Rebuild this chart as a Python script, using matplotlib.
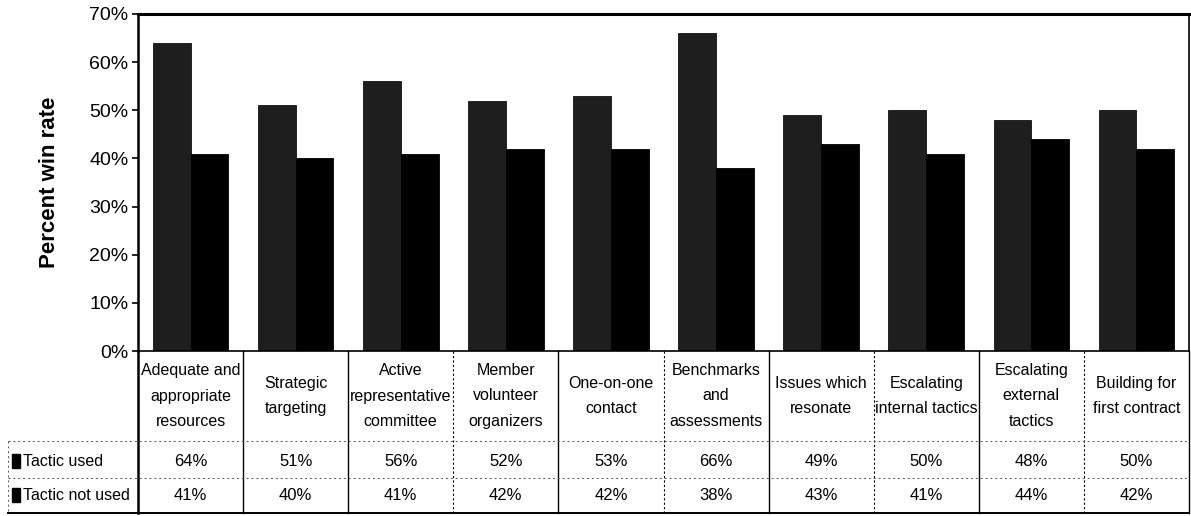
import matplotlib
matplotlib.use("Agg")
import matplotlib.pyplot as plt
from matplotlib import font_manager
from matplotlib.patches import Rectangle
import numpy as np

# ---- data -------------------------------------------------------------
categories = [
    "Adequate and\nappropriate\nresources",
    "Strategic\ntargeting",
    "Active\nrepresentative\ncommittee",
    "Member\nvolunteer\norganizers",
    "One-on-one\ncontact",
    "Benchmarks\nand\nassessments",
    "Issues which\nresonate",
    "Escalating\ninternal tactics",
    "Escalating\nexternal\ntactics",
    "Building for\nfirst contract",
]
tactic_used = [64, 51, 56, 52, 53, 66, 49, 50, 48, 50]
tactic_not_used = [41, 40, 41, 42, 42, 38, 43, 41, 44, 42]
series_names = ["Tactic used", "Tactic not used"]
yticks = [0, 10, 20, 30, 40, 50, 60, 70]

# ---- fonts ------------------------------------------------------------
names = {f.name for f in font_manager.fontManager.ttflist}
narrow = "Liberation Sans Narrow" if "Liberation Sans Narrow" in names else "Liberation Sans"
plt.rcParams["font.family"] = [narrow, "DejaVu Sans"]
is_narrow = narrow.endswith("Narrow")
tick_fs = 16 if is_narrow else 14
cell_fs = 13 if is_narrow else 11.5

W, H = 1191, 516
fig = plt.figure(figsize=(W / 100, H / 100), dpi=100)
fig.patch.set_facecolor("white")

# pixel layout helpers
ax_left, ax_right, ax_top, ax_bottom = 138, 1189, 14, 351
tab_bottom = 513

def fx(px):
    return px / W

def fy(py):
    return 1 - py / H

ax = fig.add_axes([fx(ax_left), fy(ax_bottom), fx(ax_right - ax_left), (ax_bottom - ax_top) / H])
n = len(categories)
x = np.arange(n)
bw = 0.36
ax.bar(x - bw / 2, tactic_used, bw, color="#1e1e1e", edgecolor="#111111", linewidth=0.6, zorder=2)
ax.bar(x + bw / 2, tactic_not_used, bw, color="#000000", edgecolor="#000000", linewidth=0.6, zorder=2)
ax.set_xlim(-0.5, n - 0.5)
ax.set_ylim(0, 70)
ax.set_yticks(yticks)
ax.set_yticklabels([f"{v}%" for v in yticks], fontsize=tick_fs)
ax.set_xticks([])
ax.tick_params(axis="y", length=4, width=1.2, pad=3, direction="out", colors="black")
for side, sp in ax.spines.items():
    sp.set_color("black")
    sp.set_linewidth(1.2)
ax.spines["top"].set_linewidth(2.2)
ax.spines["left"].set_linewidth(1.8)

fig.text(fx(50), fy((ax_top + ax_bottom) / 2), "Percent win rate", rotation=90,
         ha="center", va="center", fontsize=16, fontweight="bold",
         family=["Liberation Sans", "DejaVu Sans"])

# ---- data table under the plot ---------------------------------------
tab = fig.add_axes([fx(ax_left), fy(tab_bottom), fx(ax_right - ax_left), (tab_bottom - ax_bottom) / H])
tab.set_xlim(-0.5, n - 0.5)
tab.set_ylim(tab_bottom, ax_bottom)
tab.axis("off")

row1_y, row2_y = 461, 495
sep1, sep2 = 441, 478

for i, (cat, u, nu) in enumerate(zip(categories, tactic_used, tactic_not_used)):
    tab.text(i, 396, cat, ha="center", va="center", fontsize=cell_fs, linespacing=1.85)
    tab.text(i, row1_y, f"{u}%", ha="center", va="center", fontsize=cell_fs + 0.5)
    tab.text(i, row2_y, f"{nu}%", ha="center", va="center", fontsize=cell_fs + 0.5)

# column separators
solid = [True, True, False, True, False, True, False, True, False]
for k, s in enumerate(solid, start=1):
    tab.plot([k - 0.5, k - 0.5], [ax_bottom, tab_bottom], color="black",
             lw=1.0 if s else 0.8, ls="-" if s else (0, (2, 2)), clip_on=False)
tab.plot([-0.5, -0.5], [ax_bottom, tab_bottom], color="black", lw=1.8, clip_on=False)
tab.plot([n - 0.5, n - 0.5], [ax_bottom, tab_bottom], color="black", lw=1.0, clip_on=False)

# row separators, extending into the row-label area
def px_to_x(px):
    return (px - ax_left) / ((ax_right - ax_left) / n) - 0.5

left_edge = px_to_x(8)
for yy in (sep1, sep2):
    tab.plot([left_edge, n - 0.5], [yy, yy], color="#555555", lw=0.7,
             ls=(0, (2, 3)), clip_on=False)
tab.plot([left_edge, n - 0.5], [tab_bottom, tab_bottom], color="black", lw=1.4, clip_on=False)
tab.plot([left_edge, left_edge], [sep1, tab_bottom], color="#555555", lw=0.7,
         ls=(0, (2, 3)), clip_on=False)

# row labels with legend keys
for name, yy in zip(series_names, (row1_y, row2_y)):
    fig.patches.append(Rectangle((fx(12), fy(yy + 7)), fx(8), 14 / H, transform=fig.transFigure,
                                 facecolor="black", edgecolor="black"))
    fig.text(fx(23), fy(yy), name, ha="left", va="center", fontsize=cell_fs)

fig.savefig("out.png", dpi=100, facecolor="white")
